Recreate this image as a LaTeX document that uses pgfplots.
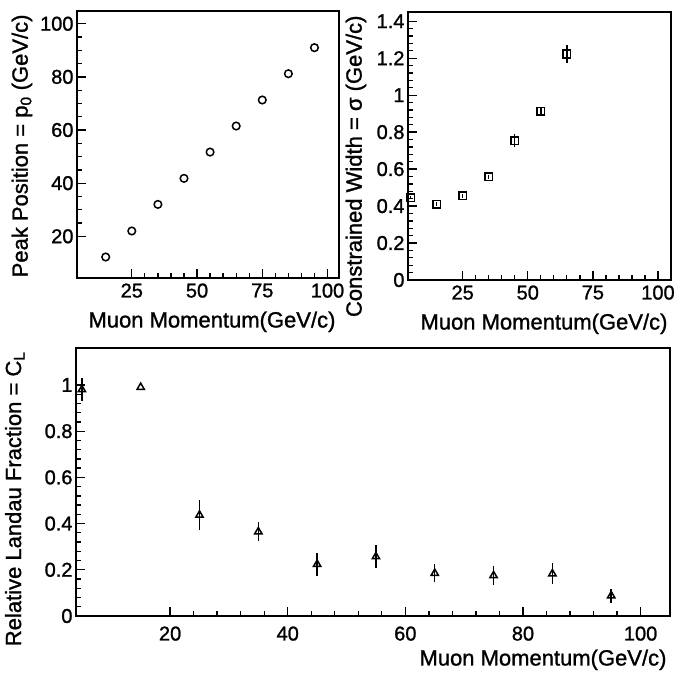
\documentclass[border=0pt]{standalone}
\usepackage{fontspec}
\setmainfont{Liberation Sans}[FakeBold=1.2]
\usepackage{pgfplots}
\usepackage{pgfplotstable}
\pgfplotsset{compat=1.18}

% peak position p0 vs momentum
\pgfplotstableread{
x    y
15   12.2
25   22.0
35   32.0
45   41.8
55   51.7
65   61.5
75   71.3
85   81.2
95   91.0
}\peakdata

% constrained width sigma
\pgfplotstableread{
x    y      e
5    0.446  0.01
15   0.410  0.01
25   0.455  0.01
35   0.558  0.01
45   0.753  0.035
55   0.912  0.02
65   1.223  0.05
}\widthdata

% relative landau fraction C_L
\pgfplotstableread{
x    y      e
5    0.98   0.05
15   0.99   0.0
25   0.437  0.065
35   0.365  0.04
45   0.224  0.05
55   0.257  0.05
65   0.185  0.04
75   0.175  0.04
85   0.183  0.045
95   0.088  0.03
}\landaudata

\pgfplotsset{
  paw/.style={
    scale only axis,
    anchor=south west,
    axis line style={line width=1.4pt},
    tick align=inside,
    xtick pos=bottom, ytick pos=left,
    major tick length=9pt, minor tick length=5pt,
    every tick/.style={line width=1.3pt, black},
    tick label style={font=\fontsize{20}{22}\selectfont},
    label style={font=\fontsize{22}{24}\selectfont},
    /pgf/number format/assume math mode=true,
    xticklabel style={yshift=-2pt},
    xlabel style={at={(rel axis cs:1,0)}, anchor=north east, yshift=-30pt},
    error bars/error bar style={line width=1.4pt},
    error bars/error mark=none,
  },
}

\begin{document}
\begin{tikzpicture}
\useasboundingbox (0pt,0pt) rectangle (678pt,675pt);

\begin{axis}[paw,
  at={(77pt,397pt)}, width=262pt, height=267pt,
  xmin=4, xmax=104.4, ymin=4.3, ymax=104.8,
  xtick={25,50,75,100}, minor x tick num=4,
  ytick={20,40,60,80,100}, minor y tick num=3,
  xlabel={Muon Momentum(GeV/c)},
  ylabel={Peak Position = p\textsubscript{0} (GeV/c)},
  ylabel style={at={(axis description cs:-0.21,1)}, anchor=east},
]
\addplot[only marks, mark=o, mark size=3.8pt, mark options={line width=1.5pt}] table[x=x,y=y] {\peakdata};
\end{axis}

\begin{axis}[paw,
  at={(408pt,395pt)}, width=263pt, height=268pt,
  xmin=4, xmax=105, ymin=0, ymax=1.45,
  xtick={25,50,75,100}, minor x tick num=4,
  ytick={0,0.2,0.4,0.6,0.8,1,1.2,1.4}, minor y tick num=4,
  xlabel={Muon Momentum(GeV/c)},
  ylabel={Constrained Width = σ (GeV/c)},
  ylabel style={at={(axis description cs:-0.198,1)}, anchor=east},
]
\addplot[only marks, mark=square, mark size=3.8pt, mark options={line width=1.5pt},
  error bars/.cd, y dir=both, y explicit] table[x=x,y=y,y error=e] {\widthdata};
\end{axis}

\begin{axis}[paw,
  at={(76pt,59pt)}, width=594pt, height=268pt,
  xmin=4, xmax=105, ymin=0, ymax=1.16,
  xtick={20,40,60,80,100}, minor x tick num=4,
  ytick={0,0.2,0.4,0.6,0.8,1}, minor y tick num=4,
  xticklabel style={yshift=-5pt},
  xlabel={Muon Momentum(GeV/c)},
  ylabel={Relative Landau Fraction = C\textsubscript{L}},
  ylabel style={at={(axis description cs:-0.103,1)}, anchor=east},
]
\addplot[only marks, mark=triangle, mark size=4.2pt, mark options={line width=1.5pt},
  error bars/.cd, y dir=both, y explicit] table[x=x,y=y,y error=e] {\landaudata};
\end{axis}
\end{tikzpicture}
\end{document}
